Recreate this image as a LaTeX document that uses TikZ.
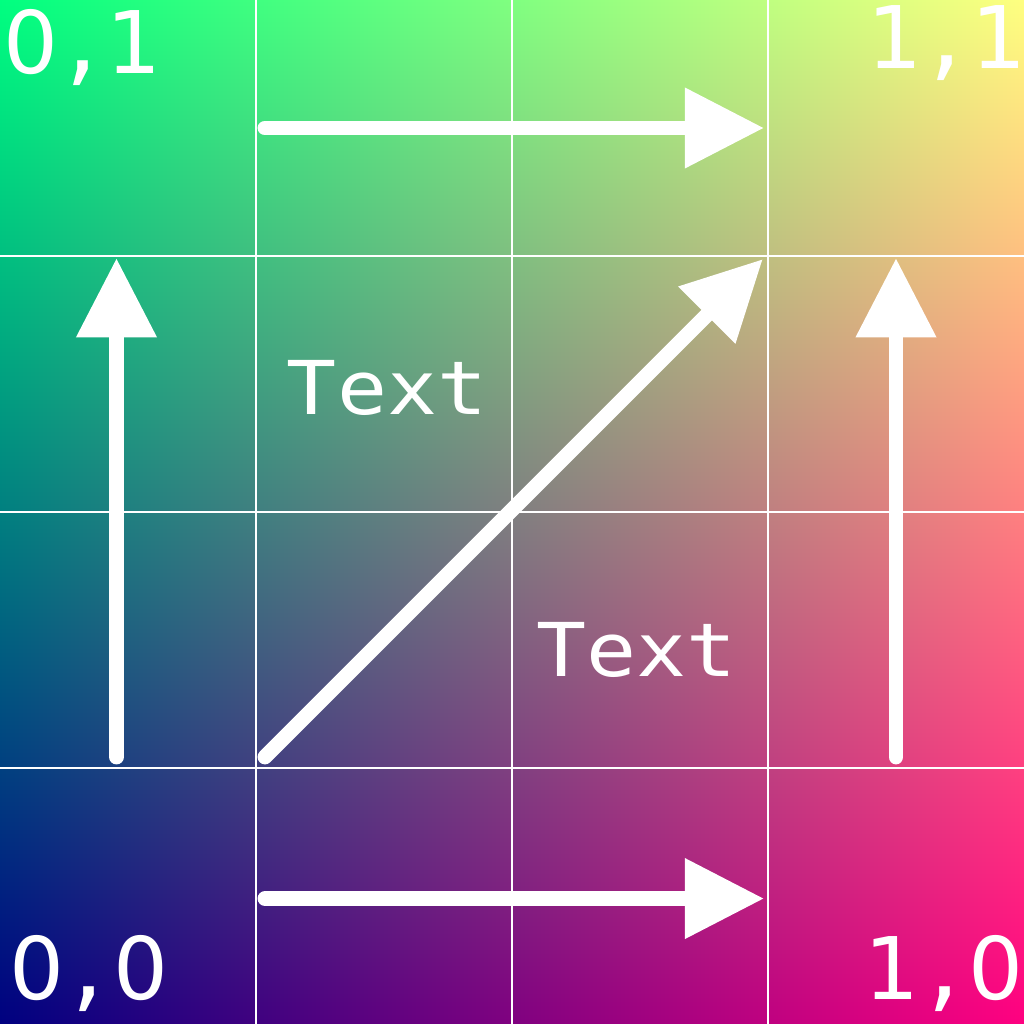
\documentclass[tikz,border=0pt]{standalone}
\usepackage{fontspec}
\setmonofont{DejaVu Sans Mono}
\newfontfamily\uvfont{DejaVu Sans}
\usetikzlibrary{arrows.meta}
\definecolor{uvline}{RGB}{255,255,255}
% red follows u, green follows v, blue stays at one half
\pgfdeclarefunctionalshading{uvsquare}{\pgfpointorigin}{\pgfpoint{100bp}{100bp}}{}{
  25 sub 50 div dup 0 lt {pop 0} if dup 1 gt {pop 1} if
  exch 25 sub 50 div dup 0 lt {pop 0} if dup 1 gt {pop 1} if
  exch 0.5
}
% corner label: digits set on a fixed pitch
\newcommand{\uvcorner}[5]{%
  \node[cornertext,anchor=#1] (#2) at (#3)
    {\makebox[0.6em]{#4}\makebox[0.6em]{\ttfamily ,}\makebox[0.6em]{#5}};
}

\begin{document}
\begin{tikzpicture}[x=2cm,y=2cm,
    cornertext/.style={inner sep=0pt,text=white,font=\uvfont\fontsize{19.2pt}{20pt}\selectfont},
    midtext/.style={inner sep=0pt,text=white,xscale=1.12,anchor=base west,
      font=\ttfamily\fontsize{16.5pt}{17pt}\selectfont},
    uvarrow/.style={uvline,line width=3.3pt,line cap=round,
      -{Triangle[length=0.62cm,width=0.6cm]}}]
    \useasboundingbox (0,0) rectangle (4,4);
    \shade[shading=uvsquare] (0,0) rectangle (4,4);
    \foreach \k in {1,2,3} {
      \draw[uvline,line width=0.56pt] (\k,0) -- (\k,4);
      \draw[uvline,line width=0.56pt] (0,\k) -- (4,\k);
    }
    \uvcorner{base west}{lblzo}{0.015,3.711}{0}{1}
    \uvcorner{base east}{lbloo}{4.005,3.734}{1}{1}
    \uvcorner{base west}{lblzz}{0.04,0.095}{0}{0}
    \uvcorner{base east}{lbloz}{3.995,0.095}{1}{0}
    \node[midtext] (txtup) at (1.117,2.379) {Text};
    \node[midtext] (txtdown) at (2.09,1.359) {Text};
    % arrow end points
    \coordinate (topstart) at (1.035,3.5);
    \coordinate (topend) at (2.985,3.5);
    \coordinate (botstart) at (1.035,0.49);
    \coordinate (botend) at (2.985,0.49);
    \coordinate (leftstart) at (0.455,1.043);
    \coordinate (leftend) at (0.455,2.992);
    \coordinate (rightstart) at (3.5,1.043);
    \coordinate (rightend) at (3.5,2.992);
    \coordinate (diagstart) at (1.035,1.043);
    \coordinate (diagend) at (2.98,2.988);
    \draw[uvarrow] (topstart) -- (topend);
    \draw[uvarrow] (botstart) -- (botend);
    \draw[uvarrow] (leftstart) -- (leftend);
    \draw[uvarrow] (rightstart) -- (rightend);
    \draw[uvarrow] (diagstart) -- (diagend);
\end{tikzpicture}
\end{document}
